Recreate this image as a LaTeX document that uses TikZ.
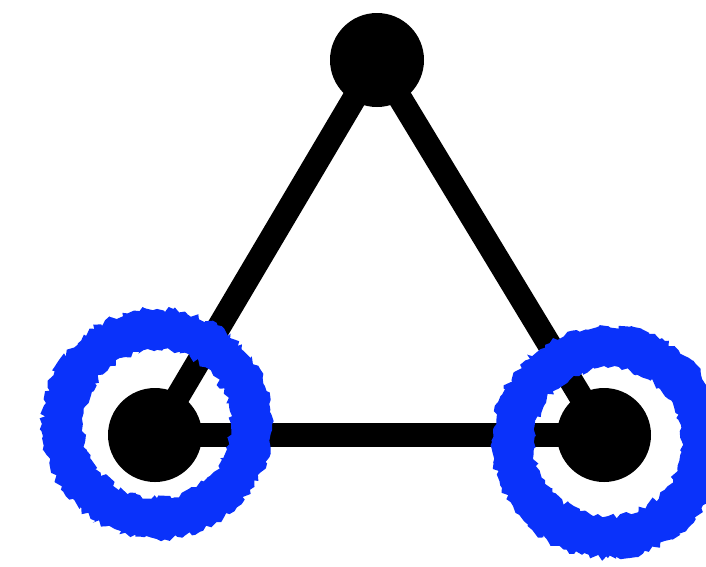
\documentclass[tikz,border=0pt]{standalone}
\usepackage{xcolor}
\usepackage{tikz}
\usetikzlibrary{decorations.pathmorphing, positioning, calc}
\definecolor{ringblue}{RGB}{10,50,250}
\pgfdeclarelayer{background}
\pgfsetlayers{background,main}
\tikzstyle{vertex} = [circle, fill=black, minimum size=94pt, inner sep=0pt]
\tikzstyle{edge} = [line width=24pt, draw=black]
\tikzstyle{halo} = [fill=ringblue, even odd rule, decorate, decoration={random steps, segment length=4pt, amplitude=3pt}]

\begin{document}
\begin{tikzpicture}[x=1pt, y=-1pt]
            \useasboundingbox (0,0) rectangle (706,566);
            \pgfmathsetseed{11}
            
            % Vertices
            \node (top) [vertex] at (377,60) {};
            \node (left) [vertex] at (155,435) {};
            \node (right) [vertex] at (604,435) {};
            
            % Edges - behind the vertices
            \begin{pgfonlayer}{background}
                \draw [edge] (top.center) -- (left.center);
                \draw [edge] (top.center) -- (right.center);
                \draw [edge] (left.center) -- (right.center);
            \end{pgfonlayer}
            
            % Blue rings round the lower vertices
            \coordinate (ringL) at ($(left) + (2,-11)$);
            \coordinate (ringR) at ($(right) + (4,7)$);
            \path [halo] (ringL) circle [radius=115] (ringL) circle [radius=74];
            \path [halo] (ringR) circle [radius=116] (ringR) circle [radius=74];
        \end{tikzpicture}
\end{document}
